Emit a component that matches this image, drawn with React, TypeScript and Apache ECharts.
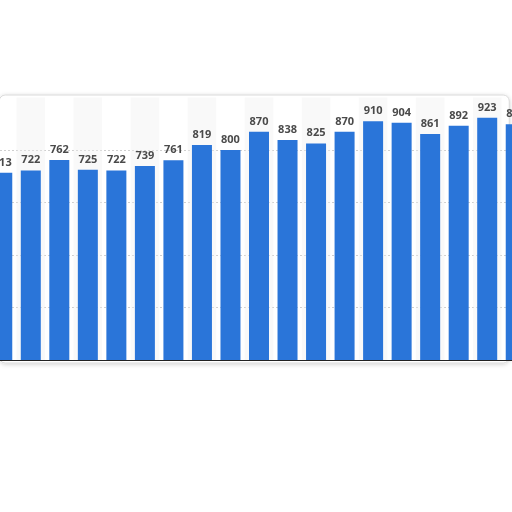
import { useEffect, useRef } from 'react';
import * as echarts from 'echarts';

// Category labels are cropped out of the reference, so they stay hidden
const categories = [
  'c1', 'c2', 'c3', 'c4', 'c5', 'c6', 'c7', 'c8', 'c9', 'c10',
  'c11', 'c12', 'c13', 'c14', 'c15', 'c16', 'c17', 'c18', 'c19',
];
const values = [
  713, 722, 762, 725, 722, 739, 761, 819, 800, 870,
  838, 825, 870, 910, 904, 861, 892, 923, 898,
];

const BLUE = '#2a75d9';
// the plot runs past both page edges, as in the cropped reference
const SHIFT = 12.25;
const WIDTH = 541.5;

export default function App() {
  const ref = useRef<HTMLDivElement | null>(null);

  useEffect(() => {
    if (!ref.current) return;
    const chart = echarts.init(ref.current, undefined, { renderer: 'svg' });

    chart.setOption({
      animation: false,
      backgroundColor: 'transparent',
      grid: { left: 0, right: 0, top: 97.5, bottom: 152 },
      graphic: [
        {
          type: 'rect',
          z: -10,
          silent: true,
          shape: { x: SHIFT - 1, y: 95, width: 510, height: 268, r: 6 },
          style: {
            fill: '#ffffff',
            stroke: '#d9d9d9',
            lineWidth: 1,
            shadowBlur: 4,
            shadowOffsetY: 1,
            shadowColor: 'rgba(0,0,0,0.18)',
          },
        },
      ],
      xAxis: {
        type: 'category',
        data: categories,
        axisLine: { lineStyle: { color: '#222', width: 1 } },
        axisTick: { show: false },
        axisLabel: { show: false },
        splitArea: {
          show: true,
          areaStyle: { color: ['rgba(255,255,255,0)', 'rgba(240,240,240,0.4)'] },
        },
      },
      yAxis: {
        type: 'value',
        min: 0,
        max: 1000,
        interval: 200,
        axisLine: { show: false },
        axisTick: { show: false },
        axisLabel: { show: false },
        splitLine: {
          showMinLine: false,
          showMaxLine: false,
          lineStyle: { color: '#cfcfcf', type: [2, 2], width: 1 },
        },
      },
      series: [
        {
          type: 'bar',
          data: values,
          barWidth: 20,
          itemStyle: { color: BLUE },
          label: {
            show: true,
            position: 'top',
            distance: 6,
            color: '#4a4a4a',
            fontSize: 11,
            fontWeight: 'bold',
            fontFamily: 'Open Sans',
          },
        },
      ],
    });

    return () => chart.dispose();
  }, []);

  return (
    <div
      ref={ref}
      style={{ position: 'fixed', left: -SHIFT, top: 0, width: WIDTH, height: 512 }}
    />
  );
}
